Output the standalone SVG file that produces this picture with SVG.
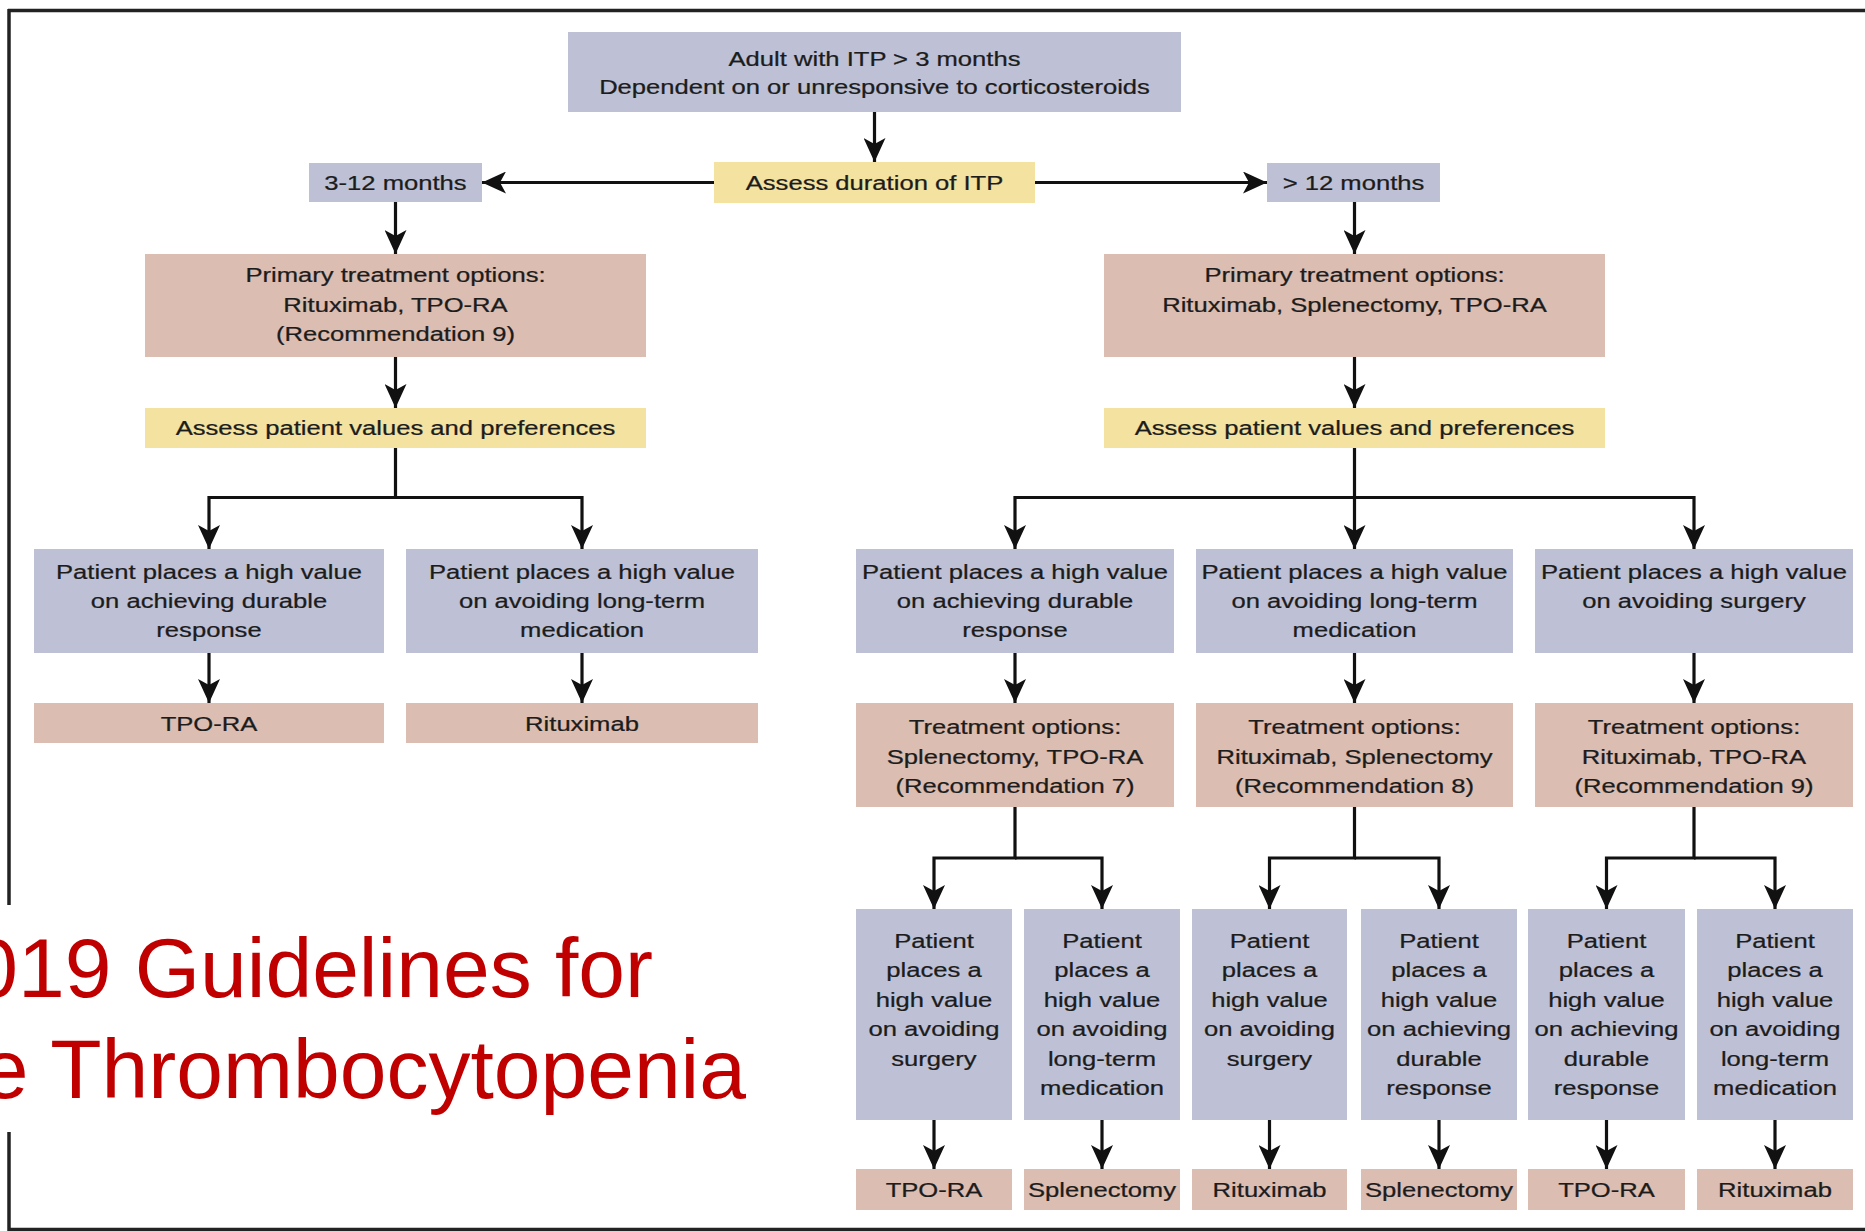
<svg xmlns="http://www.w3.org/2000/svg" width="1865" height="1231" viewBox="0 0 1865 1231">
<style>
.bl{fill:#BEC1D6}
.pk{fill:#DCBDB2}
.yl{fill:#F3E2A0}
.t{font-family:"Liberation Sans",Arial,Helvetica,sans-serif;font-size:21px;fill:#1c1c1c;text-anchor:middle;stroke:#1c1c1c;stroke-width:0.25}
.c{fill:none;stroke:#111;stroke-width:3.2}
.a{marker-end:url(#ah)}
.frame{stroke:#222;stroke-width:3.5;fill:none}
.title{font-family:"Liberation Sans",Arial,Helvetica,sans-serif;font-size:84px;fill:#C00000;text-anchor:end}
</style>
<defs>
<marker id="ah" markerUnits="userSpaceOnUse" markerWidth="24" markerHeight="22" viewBox="0 0 24 22" refX="24" refY="11" orient="auto">
<path d="M0,0 L24,11 L0,22 L6,11 z" fill="#111"/>
</marker>
</defs>
<rect width="1865" height="1231" fill="#fff"/>
<g id="frame">
<line class="frame" x1="8" y1="10.5" x2="1865" y2="10.5"/>
<line class="frame" x1="9" y1="9" x2="9" y2="905"/>
<line class="frame" x1="9" y1="1132" x2="9" y2="1231"/>
<line class="frame" x1="8" y1="1229.5" x2="1865" y2="1229.5"/>
</g>
<g id="connectors">
<path class="c a" d="M874.5 112 V162"/>
<path class="c a" d="M714 182.5 H482"/>
<path class="c a" d="M1035 182.5 H1267"/>
<path class="c a" d="M395.5 202 V254"/>
<path class="c a" d="M395.5 357 V408"/>
<path class="c a" d="M1354.5 202 V254"/>
<path class="c a" d="M1354.5 357 V408"/>
<path class="c a" d="M395.5 448 V497.5 H209 V549"/>
<path class="c a" d="M395.5 497.5 H582 V549"/>
<path class="c a" d="M209 653 V703"/>
<path class="c a" d="M582 653 V703"/>
<path class="c a" d="M1354.5 448 V549"/>
<path class="c a" d="M1354.5 497.5 H1015 V549"/>
<path class="c a" d="M1354.5 497.5 H1694 V549"/>
<path class="c a" d="M1015 653 V703"/>
<path class="c a" d="M1354.5 653 V703"/>
<path class="c a" d="M1694 653 V703"/>
<path class="c a" d="M1015 807 V858 H934 V909"/>
<path class="c a" d="M1015 858 H1102 V909"/>
<path class="c a" d="M1354.5 807 V858 H1269.5 V909"/>
<path class="c a" d="M1354.5 858 H1439 V909"/>
<path class="c a" d="M1694 807 V858 H1606.5 V909"/>
<path class="c a" d="M1694 858 H1775 V909"/>
<path class="c a" d="M934 1120 V1169"/>
<path class="c a" d="M1102 1120 V1169"/>
<path class="c a" d="M1269.5 1120 V1169"/>
<path class="c a" d="M1439 1120 V1169"/>
<path class="c a" d="M1606.5 1120 V1169"/>
<path class="c a" d="M1775 1120 V1169"/>
</g>
<g id="n-start">
<rect class="bl" x="568" y="32" width="613" height="80"/>
<text class="t" transform="translate(874.5 0) scale(1.22 1)"><tspan x="0" y="66">Adult with ITP &gt; 3 months</tspan><tspan x="0" y="94">Dependent on or unresponsive to corticosteroids</tspan></text>
</g>
<g id="n-duration">
<rect class="yl" x="714" y="162" width="321" height="41"/>
<text class="t" transform="translate(874.5 0) scale(1.22 1)"><tspan x="0" y="190">Assess duration of ITP</tspan></text>
</g>
<g id="n-3-12">
<rect class="bl" x="309" y="163" width="173" height="39"/>
<text class="t" transform="translate(395.5 0) scale(1.22 1)"><tspan x="0" y="190">3-12 months</tspan></text>
</g>
<g id="n-gt12">
<rect class="bl" x="1267" y="163" width="173" height="39"/>
<text class="t" transform="translate(1353.5 0) scale(1.22 1)"><tspan x="0" y="190">&gt; 12 months</tspan></text>
</g>
<g id="n-primary-left">
<rect class="pk" x="145" y="254" width="501" height="103"/>
<text class="t" transform="translate(395.5 0) scale(1.22 1)"><tspan x="0" y="282">Primary treatment options:</tspan><tspan x="0" y="312">Rituximab, TPO-RA</tspan><tspan x="0" y="341">(Recommendation 9)</tspan></text>
</g>
<g id="n-primary-right">
<rect class="pk" x="1104" y="254" width="501" height="103"/>
<text class="t" transform="translate(1354.5 0) scale(1.22 1)"><tspan x="0" y="282">Primary treatment options:</tspan><tspan x="0" y="312">Rituximab, Splenectomy, TPO-RA</tspan></text>
</g>
<g id="n-values-left">
<rect class="yl" x="145" y="408" width="501" height="40"/>
<text class="t" transform="translate(395.5 0) scale(1.22 1)"><tspan x="0" y="435">Assess patient values and preferences</tspan></text>
</g>
<g id="n-values-right">
<rect class="yl" x="1104" y="408" width="501" height="40"/>
<text class="t" transform="translate(1354.5 0) scale(1.22 1)"><tspan x="0" y="435">Assess patient values and preferences</tspan></text>
</g>
<g id="n-left-durable">
<rect class="bl" x="34" y="549" width="350" height="104"/>
<text class="t" transform="translate(209 0) scale(1.22 1)"><tspan x="0" y="579">Patient places a high value</tspan><tspan x="0" y="608">on achieving durable</tspan><tspan x="0" y="637">response</tspan></text>
</g>
<g id="n-left-medication">
<rect class="bl" x="406" y="549" width="352" height="104"/>
<text class="t" transform="translate(582 0) scale(1.22 1)"><tspan x="0" y="579">Patient places a high value</tspan><tspan x="0" y="608">on avoiding long-term</tspan><tspan x="0" y="637">medication</tspan></text>
</g>
<g id="n-left-tpo">
<rect class="pk" x="34" y="703" width="350" height="40"/>
<text class="t" transform="translate(209 0) scale(1.22 1)"><tspan x="0" y="731">TPO-RA</tspan></text>
</g>
<g id="n-left-rituximab">
<rect class="pk" x="406" y="703" width="352" height="40"/>
<text class="t" transform="translate(582 0) scale(1.22 1)"><tspan x="0" y="731">Rituximab</tspan></text>
</g>
<g id="n-right-durable">
<rect class="bl" x="856" y="549" width="318" height="104"/>
<text class="t" transform="translate(1015 0) scale(1.22 1)"><tspan x="0" y="579">Patient places a high value</tspan><tspan x="0" y="608">on achieving durable</tspan><tspan x="0" y="637">response</tspan></text>
</g>
<g id="n-right-medication">
<rect class="bl" x="1196" y="549" width="317" height="104"/>
<text class="t" transform="translate(1354.5 0) scale(1.22 1)"><tspan x="0" y="579">Patient places a high value</tspan><tspan x="0" y="608">on avoiding long-term</tspan><tspan x="0" y="637">medication</tspan></text>
</g>
<g id="n-right-surgery">
<rect class="bl" x="1535" y="549" width="318" height="104"/>
<text class="t" transform="translate(1694 0) scale(1.22 1)"><tspan x="0" y="579">Patient places a high value</tspan><tspan x="0" y="608">on avoiding surgery</tspan></text>
</g>
<g id="n-treat-7">
<rect class="pk" x="856" y="703" width="318" height="104"/>
<text class="t" transform="translate(1015 0) scale(1.22 1)"><tspan x="0" y="734">Treatment options:</tspan><tspan x="0" y="764">Splenectomy, TPO-RA</tspan><tspan x="0" y="793">(Recommendation 7)</tspan></text>
</g>
<g id="n-treat-8">
<rect class="pk" x="1196" y="703" width="317" height="104"/>
<text class="t" transform="translate(1354.5 0) scale(1.22 1)"><tspan x="0" y="734">Treatment options:</tspan><tspan x="0" y="764">Rituximab, Splenectomy</tspan><tspan x="0" y="793">(Recommendation 8)</tspan></text>
</g>
<g id="n-treat-9">
<rect class="pk" x="1535" y="703" width="318" height="104"/>
<text class="t" transform="translate(1694 0) scale(1.22 1)"><tspan x="0" y="734">Treatment options:</tspan><tspan x="0" y="764">Rituximab, TPO-RA</tspan><tspan x="0" y="793">(Recommendation 9)</tspan></text>
</g>
<g id="n-b1">
<rect class="bl" x="856" y="909" width="156" height="211"/>
<text class="t" transform="translate(934 0) scale(1.22 1)"><tspan x="0" y="948">Patient</tspan><tspan x="0" y="977.5">places a</tspan><tspan x="0" y="1007">high value</tspan><tspan x="0" y="1036.5">on avoiding</tspan><tspan x="0" y="1066">surgery</tspan></text>
</g>
<g id="n-b2">
<rect class="bl" x="1024" y="909" width="156" height="211"/>
<text class="t" transform="translate(1102 0) scale(1.22 1)"><tspan x="0" y="948">Patient</tspan><tspan x="0" y="977.5">places a</tspan><tspan x="0" y="1007">high value</tspan><tspan x="0" y="1036.5">on avoiding</tspan><tspan x="0" y="1066">long-term</tspan><tspan x="0" y="1095.5">medication</tspan></text>
</g>
<g id="n-b3">
<rect class="bl" x="1192" y="909" width="155" height="211"/>
<text class="t" transform="translate(1269.5 0) scale(1.22 1)"><tspan x="0" y="948">Patient</tspan><tspan x="0" y="977.5">places a</tspan><tspan x="0" y="1007">high value</tspan><tspan x="0" y="1036.5">on avoiding</tspan><tspan x="0" y="1066">surgery</tspan></text>
</g>
<g id="n-b4">
<rect class="bl" x="1361" y="909" width="156" height="211"/>
<text class="t" transform="translate(1439 0) scale(1.22 1)"><tspan x="0" y="948">Patient</tspan><tspan x="0" y="977.5">places a</tspan><tspan x="0" y="1007">high value</tspan><tspan x="0" y="1036.5">on achieving</tspan><tspan x="0" y="1066">durable</tspan><tspan x="0" y="1095.5">response</tspan></text>
</g>
<g id="n-b5">
<rect class="bl" x="1528" y="909" width="157" height="211"/>
<text class="t" transform="translate(1606.5 0) scale(1.22 1)"><tspan x="0" y="948">Patient</tspan><tspan x="0" y="977.5">places a</tspan><tspan x="0" y="1007">high value</tspan><tspan x="0" y="1036.5">on achieving</tspan><tspan x="0" y="1066">durable</tspan><tspan x="0" y="1095.5">response</tspan></text>
</g>
<g id="n-b6">
<rect class="bl" x="1697" y="909" width="156" height="211"/>
<text class="t" transform="translate(1775 0) scale(1.22 1)"><tspan x="0" y="948">Patient</tspan><tspan x="0" y="977.5">places a</tspan><tspan x="0" y="1007">high value</tspan><tspan x="0" y="1036.5">on avoiding</tspan><tspan x="0" y="1066">long-term</tspan><tspan x="0" y="1095.5">medication</tspan></text>
</g>
<g id="n-l1">
<rect class="pk" x="856" y="1169" width="156" height="41"/>
<text class="t" transform="translate(934 0) scale(1.22 1)"><tspan x="0" y="1197">TPO-RA</tspan></text>
</g>
<g id="n-l2">
<rect class="pk" x="1024" y="1169" width="156" height="41"/>
<text class="t" transform="translate(1102 0) scale(1.22 1)"><tspan x="0" y="1197">Splenectomy</tspan></text>
</g>
<g id="n-l3">
<rect class="pk" x="1192" y="1169" width="155" height="41"/>
<text class="t" transform="translate(1269.5 0) scale(1.22 1)"><tspan x="0" y="1197">Rituximab</tspan></text>
</g>
<g id="n-l4">
<rect class="pk" x="1361" y="1169" width="156" height="41"/>
<text class="t" transform="translate(1439 0) scale(1.22 1)"><tspan x="0" y="1197">Splenectomy</tspan></text>
</g>
<g id="n-l5">
<rect class="pk" x="1528" y="1169" width="157" height="41"/>
<text class="t" transform="translate(1606.5 0) scale(1.22 1)"><tspan x="0" y="1197">TPO-RA</tspan></text>
</g>
<g id="n-l6">
<rect class="pk" x="1697" y="1169" width="156" height="41"/>
<text class="t" transform="translate(1775 0) scale(1.22 1)"><tspan x="0" y="1197">Rituximab</tspan></text>
</g>
<g id="title">
<text class="title" x="653" y="997">019 Guidelines for</text>
<text class="title" x="746" y="1098">e Thrombocytopenia</text>
</g>
</svg>
